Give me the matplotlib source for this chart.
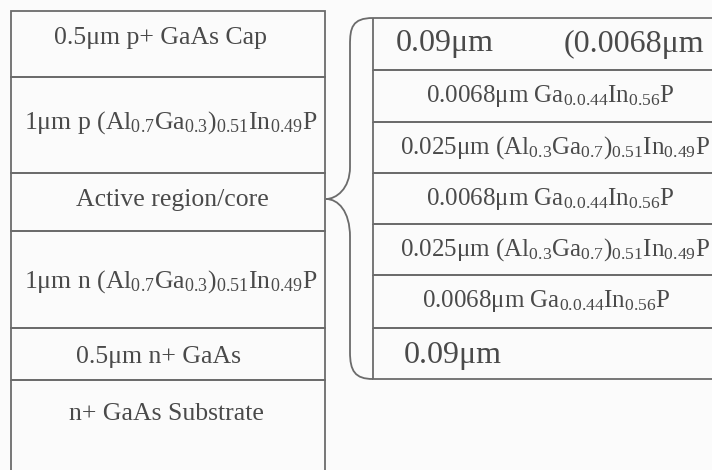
import matplotlib
matplotlib.use("Agg")
import matplotlib.pyplot as plt
from matplotlib.patches import Rectangle, PathPatch
from matplotlib.path import Path

plt.rcParams["font.family"] = ["Liberation Serif", "DejaVu Serif"]
plt.rcParams["mathtext.fontset"] = "custom"
plt.rcParams["mathtext.rm"] = "Liberation Serif"
plt.rcParams["mathtext.it"] = "Liberation Serif:italic"

# left stack: layer labels, top to bottom
left_labels = [
    "0.5μm p+ GaAs Cap",
    "1μm p (Al$_{0.7}$Ga$_{0.3}$)$_{0.51}$In$_{0.49}$P",
    "Active region/core",
    "1μm n (Al$_{0.7}$Ga$_{0.3}$)$_{0.51}$In$_{0.49}$P",
    "0.5μm n+ GaAs",
    "n+ GaAs Substrate",
]
# right stack: active region breakdown
right_labels = [
    "",
    "0.0068μm Ga$_{0.0.44}$In$_{0.56}$P",
    "0.025μm (Al$_{0.3}$Ga$_{0.7}$)$_{0.51}$In$_{0.49}$P",
    "0.0068μm Ga$_{0.0.44}$In$_{0.56}$P",
    "0.025μm (Al$_{0.3}$Ga$_{0.7}$)$_{0.51}$In$_{0.49}$P",
    "0.0068μm Ga$_{0.0.44}$In$_{0.56}$P",
    "",
]
right_x = [0, 550, 555, 550, 555, 546, 0]

# layout in pixel units (figure is 712 x 470)
LEFT_X0, LEFT_X1 = 11, 325
LEFT_EDGES = [11, 77, 173, 231, 328, 380, 490]
LEFT_TEXT_Y = [38, 123, 200, 282, 357, 414]
LEFT_TEXT_X = [160, 171, 172, 171, 158, 166]
RIGHT_X0, RIGHT_X1 = 373, 760
RIGHT_EDGES = [18, 70, 122, 173, 224, 275, 328, 379]

LINE = "#6b6b6b"
INK = "#4a4a4a"
FS_LEFT = 18.5
FS_RIGHT = 18
FS_BIG = 23

fig = plt.figure(figsize=(7.12, 4.70), dpi=100)
fig.patch.set_facecolor("#fbfbfb")
ax = fig.add_axes([0, 0, 1, 1])
ax.set_xlim(0, 712)
ax.set_ylim(470, 0)
ax.axis("off")

for i, lab in enumerate(left_labels):
    y0, y1 = LEFT_EDGES[i], LEFT_EDGES[i + 1]
    ax.add_patch(Rectangle((LEFT_X0, y0), LEFT_X1 - LEFT_X0, y1 - y0,
                           fill=False, ec=LINE, lw=1.3, clip_on=False))
    ax.text(LEFT_TEXT_X[i], LEFT_TEXT_Y[i], lab, ha="center", va="center",
            fontsize=FS_LEFT, color=INK)

for i, lab in enumerate(right_labels):
    y0, y1 = RIGHT_EDGES[i], RIGHT_EDGES[i + 1]
    ax.add_patch(Rectangle((RIGHT_X0, y0), RIGHT_X1 - RIGHT_X0, y1 - y0,
                           fill=False, ec=LINE, lw=1.3, clip_on=False))
    if lab:
        ax.text(right_x[i], (y0 + y1) / 2, lab, ha="center", va="center",
                fontsize=FS_RIGHT, color=INK)

ax.text(396, 44, "0.09μm", ha="left", va="center", fontsize=FS_BIG, color=INK)
ax.text(564, 44, "(0.0068μm", ha="left", va="center", fontsize=FS_BIG, color=INK)
ax.text(404, 355, "0.09μm", ha="left", va="center", fontsize=FS_BIG, color=INK)

# curly brace from the active region to the right stack
top, bot, tip_x, tip_y, bx = RIGHT_EDGES[0], RIGHT_EDGES[-1], 326, 199, 350
verts = [
    (RIGHT_X0, top), (bx + 2, top), (bx, top + 10), (bx, top + 27),
    (bx, tip_y - 32),
    (bx, tip_y - 10), (tip_x + 10, tip_y), (tip_x, tip_y),
    (tip_x + 12, tip_y), (bx, tip_y + 12), (bx, tip_y + 38),
    (bx, bot - 27),
    (bx, bot - 8), (bx + 5, bot), (RIGHT_X0, bot),
]
codes = [Path.MOVETO, Path.CURVE4, Path.CURVE4, Path.CURVE4,
         Path.LINETO,
         Path.CURVE4, Path.CURVE4, Path.CURVE4,
         Path.CURVE4, Path.CURVE4, Path.CURVE4,
         Path.LINETO,
         Path.CURVE4, Path.CURVE4, Path.CURVE4]
ax.add_patch(PathPatch(Path(verts, codes), fill=False, ec=LINE, lw=1.3))

fig.savefig("out.png", dpi=100, facecolor=fig.get_facecolor())
